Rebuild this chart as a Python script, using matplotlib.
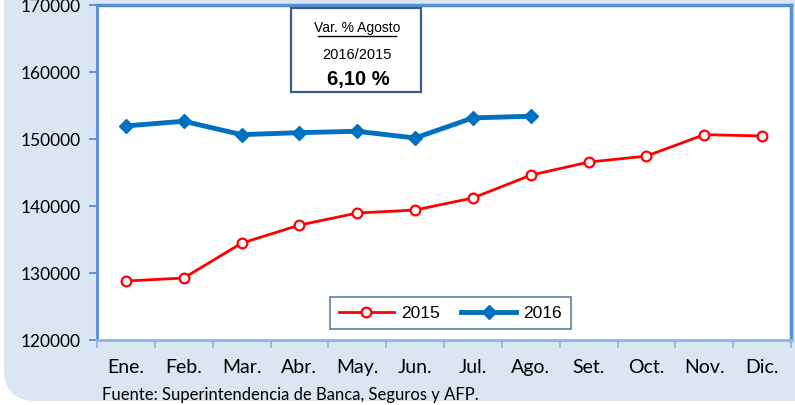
import numpy as np
from matplotlib import pyplot as plt
from matplotlib.patches import FancyBboxPatch, Rectangle
from matplotlib.lines import Line2D

meses = ['Ene.', 'Feb.', 'Mar.', 'Abr.', 'May.', 'Jun.', 'Jul.', 'Ago.', 'Set.', 'Oct.', 'Nov.', 'Dic.']
y2015 = [128800, 129250, 134450, 137150, 138950, 139400, 141200, 144600, 146550, 147450, 150650, 150450]
y2016 = [151950, 152650, 150650, 150950, 151150, 150150, 153150, 153400]
var_titulo = 'Var. % Agosto'
var_periodo = '2016/2015'
var_valor = '6,10 %'
fuente = 'Fuente: Superintendencia de Banca, Seguros y AFP.'

fig = plt.figure(figsize=(7.95, 4.05), dpi=100)
fig.patch.set_facecolor('white')

# fondo celeste redondeado
bg = FancyBboxPatch((0.005, 0.01), 1.2, 1.2, boxstyle='round,pad=0,rounding_size=0.04',
                    transform=fig.transFigure, facecolor='#DCE6F2', edgecolor='none', zorder=-10,
                    mutation_aspect=795 / 405)
fig.patches.append(bg)

ax = fig.add_axes([97 / 795, 65 / 405, 694 / 795, 335 / 405])
ax.set_facecolor('white')

x = np.arange(len(meses))
ax.plot(x, y2015, color='#FF0000', lw=2, marker='o', markersize=7,
        markerfacecolor='white', markeredgecolor='#FF0000', markeredgewidth=1.6, label='2015', zorder=3)
ax.plot(x[:len(y2016)], y2016, color='#0070C0', lw=3.5, marker='D', markersize=7.5,
        markerfacecolor='#0070C0', markeredgecolor='#0070C0', label='2016', zorder=3)

ax.set_xlim(-0.5, 11.5)
ax.set_ylim(120000, 170000)
ax.set_yticks(np.arange(120000, 170001, 10000))
ax.set_xticks(x)
ax.set_xticklabels(meses)
ax.set_xticks(np.arange(-0.5, 12, 1), minor=True)

for lab in ax.get_yticklabels():
    lab.set_fontfamily('Lato')
for lab in ax.get_xticklabels():
    lab.set_fontfamily('Lato')
ax.tick_params(axis='y', labelsize=12.5, direction='out', length=6, width=1.3, color='#558ED5', pad=6)
ax.tick_params(axis='x', which='major', labelsize=14, length=0, pad=14)
ax.tick_params(axis='x', which='minor', direction='out', length=6, width=1.3, color='#8EB4E3')

ax.spines['left'].set_color('#558ED5')
ax.spines['left'].set_linewidth(2)
ax.spines['bottom'].set_color('#8EB4E3')
ax.spines['bottom'].set_linewidth(2)
ax.spines['top'].set_color('#558ED5')
ax.spines['top'].set_linewidth(2.5)
ax.spines['right'].set_color('#558ED5')
ax.spines['right'].set_linewidth(2.5)

leg = ax.legend(loc='center', bbox_to_anchor=(0.509, 0.08), ncol=2, fancybox=False,
                prop={'family': 'Liberation Sans', 'size': 12.5}, handlelength=3.2,
                columnspacing=1.2, borderpad=0.5, handletextpad=0.4)
leg.get_frame().set_edgecolor('#385D8A')
leg.get_frame().set_linewidth(1.2)

# recuadro de variacion
fig.patches.append(Rectangle((291 / 795, 1 - 92 / 405), 130 / 795, 84 / 405, transform=fig.transFigure,
                             facecolor='white', edgecolor='#385D8A', lw=1.6, zorder=5))
fig.text(357 / 795, 1 - 28 / 405, var_titulo, ha='center', va='center', fontsize=10,
         family='Liberation Sans', zorder=6)
fig.lines.append(Line2D([318 / 795, 396 / 795], [1 - 36 / 405, 1 - 36 / 405], transform=fig.transFigure,
                        color='black', lw=1, zorder=6))
fig.text(357 / 795, 1 - 55 / 405, var_periodo, ha='center', va='center', fontsize=10.5,
         family='Liberation Sans', zorder=6)
fig.text(358 / 795, 1 - 79 / 405, var_valor, ha='center', va='center', fontsize=14.5, fontweight='bold',
         family='Liberation Sans', zorder=6)

fig.text(102 / 795, 1 - 395 / 405, fuente, ha='left', va='center', fontsize=12, family='Lato')

plt.savefig('out.png', dpi=100)
